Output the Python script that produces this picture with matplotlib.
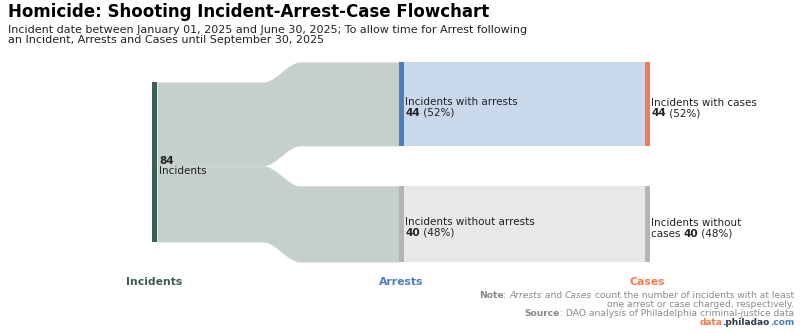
import numpy as np
import matplotlib
matplotlib.use("Agg")
import matplotlib.pyplot as plt

# data
stages = ["Incidents", "Arrests", "Cases"]
total_incidents = 84
arrest_counts = [44, 40]          # with, without
case_counts = [44, 40]            # with, without
arrest_labels = ["Incidents with arrests", "Incidents without arrests"]
case_labels = ["Incidents with cases", "Incidents without\ncases"]

title = "Homicide: Shooting Incident-Arrest-Case Flowchart"
subtitle = ("Incident date between January 01, 2025 and June 30, 2025; To allow time for Arrest following\n"
            "an Incident, Arrests and Cases until September 30, 2025")

# colours
c_inc = "#3e5d58"
c_blue = "#4a7cc0"
c_orange = "#f47b4f"
c_grey = "#b4b4b4"
c_flow0 = "#c5cfcc"
c_flow_with = "#c9d8eb"
c_flow_without = "#e8e8e8"
c_text = "#222222"
c_note = "#8a8a8a"

# layout (pixels)
W, H = 800, 333
col_x = [152, 399, 645]
node_w = 5
px_per = 160 / total_incidents
inc_top = 82
right_top = 62
gap = 40
curve_x0, curve_x1 = 263, 300

fig = plt.figure(figsize=(W / 100, H / 100), dpi=100)
fig.patch.set_facecolor("white")
ax = fig.add_axes([0, 0, 1, 1])
ax.set_xlim(0, W)
ax.set_ylim(H, 0)
ax.axis("off")


def smooth(xa, xb, ya, yb, n=60):
    t = np.linspace(0, 1, n)
    s = 3 * t ** 2 - 2 * t ** 3
    return xa + (xb - xa) * t, ya + (yb - ya) * s


def band(x_start, x_end, top0, bot0, top1, bot1, color):
    cx, ct = smooth(curve_x0, curve_x1, top0, top1)
    _, cb = smooth(curve_x0, curve_x1, bot0, bot1)
    xs = np.concatenate([[x_start], cx, [x_end]])
    tops = np.concatenate([[top0], ct, [top1]])
    bots = np.concatenate([[bot0], cb, [bot1]])
    ax.fill_between(xs, tops, bots, color=color, lw=0, zorder=1)


def rich(x, y, pieces, ha="left", va="center", size=7.2):
    # pieces: list of (text, props); chained so mixed styles sit on one line
    if ha == "left":
        t = ax.text(x, y, pieces[0][0], ha="left", va=va, fontsize=size, **pieces[0][1])
        for s, p in pieces[1:]:
            t = ax.annotate(s, xy=(1, 0), xycoords=t, ha="left", va="bottom", fontsize=size, **p)
    else:
        t = ax.text(x, y, pieces[-1][0], ha="right", va=va, fontsize=size, **pieces[-1][1])
        for s, p in reversed(pieces[:-1]):
            t = ax.annotate(s, xy=(0, 0), xycoords=t, ha="right", va="bottom", fontsize=size, **p)


# node spans
inc_bot = inc_top + total_incidents * px_per
arr_spans = []
y = right_top
for n in arrest_counts:
    arr_spans.append((y, y + n * px_per))
    y += n * px_per + gap
case_spans = []
y = right_top
for n in case_counts:
    case_spans.append((y, y + n * px_per))
    y += n * px_per + gap

# flows incidents -> arrests
y0 = inc_top
for (t1, b1), n in zip(arr_spans, arrest_counts):
    band(col_x[0] + node_w, col_x[1], y0, y0 + n * px_per, t1, b1, c_flow0)
    y0 += n * px_per

# flows arrests -> cases (straight)
for (t1, b1), c in zip(arr_spans, [c_flow_with, c_flow_without]):
    ax.fill_between([col_x[1] + node_w, col_x[2]], t1, b1, color=c, lw=0, zorder=1)

# nodes
ax.fill_between([col_x[0], col_x[0] + node_w], inc_top, inc_bot, color=c_inc, lw=0, zorder=2)
for (t1, b1), c in zip(arr_spans, [c_blue, c_grey]):
    ax.fill_between([col_x[1], col_x[1] + node_w], t1, b1, color=c, lw=0, zorder=2)
for (t1, b1), c in zip(case_spans, [c_orange, c_grey]):
    ax.fill_between([col_x[2], col_x[2] + node_w], t1, b1, color=c, lw=0, zorder=2)

# node labels
fs = 7.5
mid = (inc_top + inc_bot) / 2
ax.text(col_x[0] + node_w + 2, mid - 1.5, str(total_incidents), fontsize=fs, fontweight="bold",
        color=c_text, va="center")
ax.text(col_x[0] + node_w + 2, mid + 9.5, "Incidents", fontsize=fs, color=c_text, va="center")

for (t1, b1), n, lab in zip(arr_spans, arrest_counts, arrest_labels):
    m = (t1 + b1) / 2
    ax.text(col_x[1] + node_w + 1, m - 1.5, lab, fontsize=fs, color=c_text, va="center")
    rich(col_x[1] + node_w + 1, m + 9,
         [(str(n), dict(fontweight="bold", color=c_text)),
          (" (%d%%)" % round(100 * n / total_incidents), dict(color=c_text))], size=fs)

for (t1, b1), n, lab in zip(case_spans, case_counts, case_labels):
    m = (t1 + b1) / 2
    pct = " (%d%%)" % round(100 * n / total_incidents)
    if "\n" in lab:
        first, second = lab.split("\n")
        ax.text(col_x[2] + node_w + 1, m - 0.5, first, fontsize=fs, color=c_text, va="center")
        rich(col_x[2] + node_w + 1, m + 10,
             [(second + " ", dict(color=c_text)), (str(n), dict(fontweight="bold", color=c_text)),
              (pct, dict(color=c_text))], size=fs)
    else:
        ax.text(col_x[2] + node_w + 1, m - 1, lab, fontsize=fs, color=c_text, va="center")
        rich(col_x[2] + node_w + 1, m + 9.5,
             [(str(n), dict(fontweight="bold", color=c_text)), (pct, dict(color=c_text))], size=fs)

# stage labels
for x, s, c in zip(col_x, stages, [c_inc, c_blue, c_orange]):
    ax.text(x + node_w / 2, 282, s, ha="center", va="center", fontsize=7.8, fontweight="bold", color=c)

# title
ax.text(8, 12, title, fontsize=12.0, fontweight="bold", color="black", va="center")
ax.text(8, 35, subtitle, fontsize=8.0, color=c_text, va="center", linespacing=0.95)

# note / source
nfs = 6.6
rich(794, 296, [("Note", dict(fontweight="bold", color=c_note)), (": ", dict(color=c_note)),
                ("Arrests", dict(style="italic", color=c_note)), (" and ", dict(color=c_note)),
                ("Cases", dict(style="italic", color=c_note)),
                (" count the number of incidents with at least", dict(color=c_note))],
     ha="right", size=nfs)
ax.text(794, 304.5, "one arrest or case charged, respectively.", ha="right", va="center",
        fontsize=nfs, color=c_note)
rich(794, 313.5, [("Source", dict(fontweight="bold", color=c_note)),
                  (": DAO analysis of Philadelphia criminal-justice data", dict(color=c_note))],
     ha="right", size=nfs)
rich(794, 322.5, [("data", dict(fontweight="bold", color=c_orange)),
                  (".philadao", dict(fontweight="bold", color="#2b3a4a")),
                  (".com", dict(fontweight="bold", color=c_blue))], ha="right", size=6.5)

fig.savefig("out.png", dpi=100, facecolor=fig.get_facecolor())
